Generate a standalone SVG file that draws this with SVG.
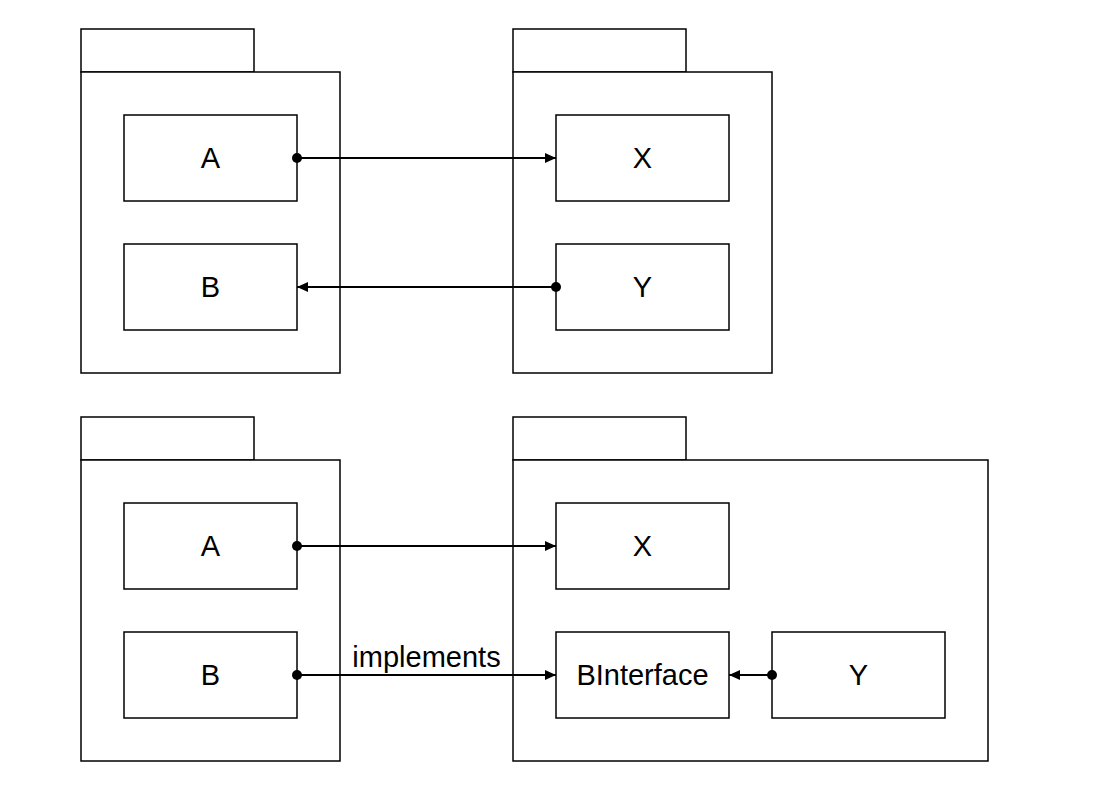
<svg xmlns="http://www.w3.org/2000/svg" width="1105" height="796" viewBox="0 0 1105 796">
<style>
.pkg{fill:#fff;stroke:#000;stroke-width:1.5}
.box{fill:#fff;stroke:#000;stroke-width:1.5}
.t{font-family:"Liberation Sans",Arial,sans-serif;font-size:29px;fill:#000;text-anchor:middle;dominant-baseline:central}
.c{stroke:#000;stroke-width:1.8;fill:none}
</style>
<defs>
<marker id="arr" markerWidth="12" markerHeight="10" refX="11" refY="5" orient="auto" markerUnits="userSpaceOnUse"><path d="M0,0 L11,5 L0,10 Z" fill="#000"/></marker>
<marker id="dot" markerWidth="12" markerHeight="12" refX="6" refY="6" orient="auto" markerUnits="userSpaceOnUse"><circle cx="6" cy="6" r="5" fill="#000"/></marker>
</defs>
<rect width="1105" height="796" fill="#fff"/>
<g id="pkg1"><rect class="pkg" x="81" y="29" width="173" height="43"/><rect class="pkg" x="81" y="72" width="259" height="301"/></g>
<g id="pkg2"><rect class="pkg" x="513" y="29" width="173" height="43"/><rect class="pkg" x="513" y="72" width="259" height="301"/></g>
<g id="pkg3"><rect class="pkg" x="81" y="417" width="173" height="43"/><rect class="pkg" x="81" y="460" width="259" height="301"/></g>
<g id="pkg4"><rect class="pkg" x="513" y="417" width="173" height="43"/><rect class="pkg" x="513" y="460" width="475" height="301"/></g>
<g id="A1"><rect class="box" x="124" y="115" width="173" height="86"/><text class="t" x="210.5" y="158">A</text></g>
<g id="B1"><rect class="box" x="124" y="244" width="173" height="86"/><text class="t" x="210.5" y="287">B</text></g>
<g id="X1"><rect class="box" x="556" y="115" width="173" height="86"/><text class="t" x="642.5" y="158">X</text></g>
<g id="Y1"><rect class="box" x="556" y="244" width="173" height="86"/><text class="t" x="642.5" y="287">Y</text></g>
<g id="A2"><rect class="box" x="124" y="503" width="173" height="86"/><text class="t" x="210.5" y="546">A</text></g>
<g id="B2"><rect class="box" x="124" y="632" width="173" height="86"/><text class="t" x="210.5" y="675">B</text></g>
<g id="X2"><rect class="box" x="556" y="503" width="173" height="86"/><text class="t" x="642.5" y="546">X</text></g>
<g id="BInterface"><rect class="box" x="556" y="632" width="173" height="86"/><text class="t" x="642.5" y="675">BInterface</text></g>
<g id="Y2"><rect class="box" x="772" y="632" width="173" height="86"/><text class="t" x="858.5" y="675">Y</text></g>
<g id="connectors">
<line class="c" x1="297" y1="158" x2="556" y2="158" marker-start="url(#dot)" marker-end="url(#arr)"/>
<line class="c" x1="556" y1="287" x2="297" y2="287" marker-start="url(#dot)" marker-end="url(#arr)"/>
<line class="c" x1="297" y1="546" x2="556" y2="546" marker-start="url(#dot)" marker-end="url(#arr)"/>
<line class="c" x1="297" y1="675" x2="556" y2="675" marker-start="url(#dot)" marker-end="url(#arr)"/>
<line class="c" x1="772" y1="675" x2="729" y2="675" marker-start="url(#dot)" marker-end="url(#arr)"/>
<text class="t" x="426.5" y="657">implements</text>
</g>
</svg>
